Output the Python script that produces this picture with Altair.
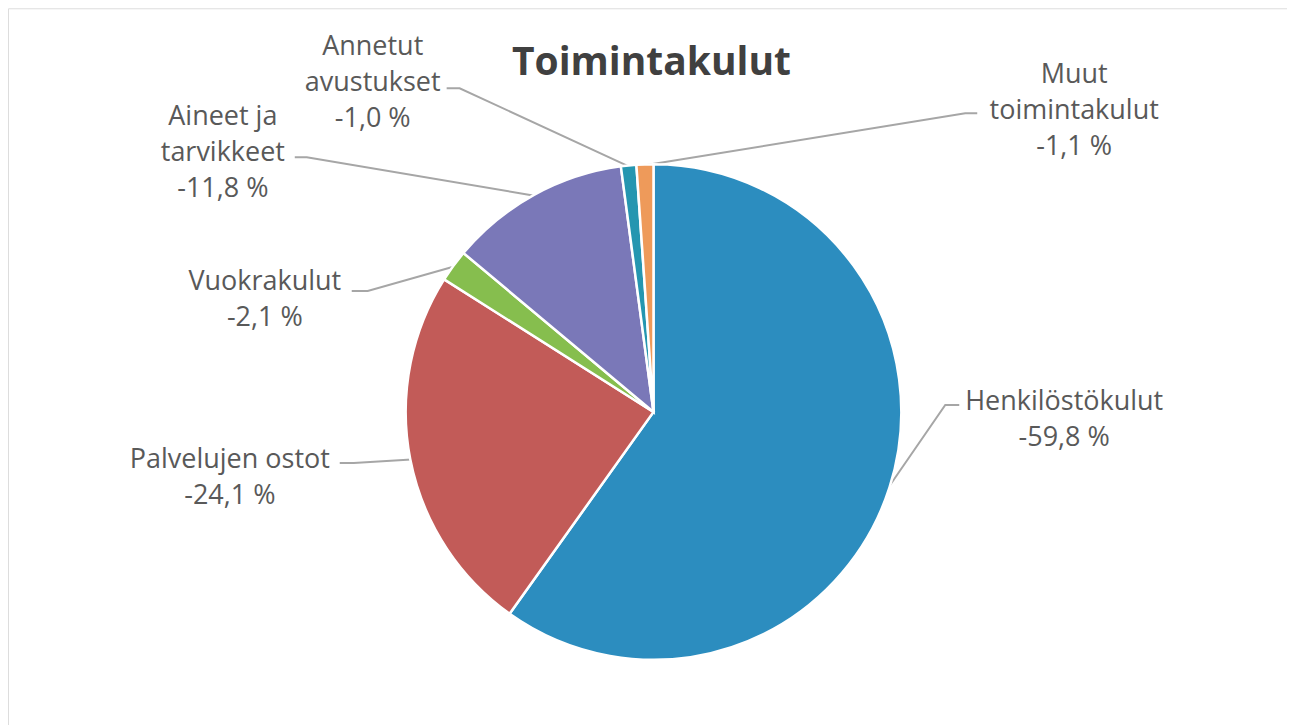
import math
import altair as alt
import pandas as pd

# ---- data ----
categories = ["Henkilöstökulut", "Palvelujen ostot", "Vuokrakulut",
              "Aineet ja tarvikkeet", "Annetut avustukset", "Muut toimintakulut"]
values = [-59.8, -24.1, -2.1, -11.8, -1.0, -1.1]
display_names = ["Henkilöstökulut", "Palvelujen ostot", "Vuokrakulut",
                 "Aineet ja\ntarvikkeet", "Annetut\navustukset", "Muut\ntoimintakulut"]
title_text = "Toimintakulut"

# ---- styles ----
colors = ["#2C8DBF", "#C25B58", "#86BE4E", "#7A78B8", "#2596B0", "#EE9A5A"]

# ---- layout (page pixel coordinates; y = first text line) ----
CX, CY, R = 654, 412, 248
label_x = [1065, 230, 265, 223, 373, 1075]
label_y = [402, 460, 282, 117, 47, 75]
lead_x = [960, 340, 352, 295, 447, 978]
lead_elbow = [946, 354, 368, 307, 460, 966]
lead_y = [405, 463, 291, 157, 88, 113]


def fmt(v):
    return f"{v:.1f}".replace(".", ",") + " %"


pie_df = pd.DataFrame({
    "cat": categories,
    "value": values,
    "idx": list(range(len(categories))),
})
pie_df["absval"] = pie_df["value"].abs()

label_df = pd.DataFrame({
    "cat": categories,
    "txt": [d + "\n" + fmt(v) for d, v in zip(display_names, values)],
    "x": label_x,
    "y": label_y,
})

# leader lines: label end -> elbow -> slice mid-angle on the pie edge
total = sum(abs(v) for v in values)
rows = []
cum = 0.0
for i, (c, v) in enumerate(zip(categories, values)):
    a = 2 * math.pi * (cum + abs(v) / 2) / total
    cum += abs(v)
    ex = CX + (R - 1) * math.sin(a)
    ey = CY - (R - 1) * math.cos(a)
    rows.append({"cat": c, "seq": 0, "x": lead_x[i], "y": lead_y[i]})
    rows.append({"cat": c, "seq": 1, "x": lead_elbow[i], "y": lead_y[i]})
    rows.append({"cat": c, "seq": 2, "x": ex, "y": ey})
lead_df = pd.DataFrame(rows)

title_df = pd.DataFrame({"t": [title_text], "x": [652], "y": [63]})

xs = alt.Scale(domain=[8, 1288], nice=False, zero=False)
ys = alt.Scale(domain=[728, 8], nice=False, zero=False)

pie = alt.Chart(pie_df).mark_arc(radius=R, stroke="white", strokeWidth=2.5).encode(
    theta=alt.Theta("absval:Q", stack=True),
    color=alt.Color("cat:N", scale=alt.Scale(domain=categories, range=colors), legend=None),
    order=alt.Order("idx:Q"),
    x=alt.value(CX - 8),
    y=alt.value(CY - 8),
)

leaders = alt.Chart(lead_df).mark_line(color="#A6A6A6", strokeWidth=2).encode(
    x=alt.X("x:Q", scale=xs, axis=None),
    y=alt.Y("y:Q", scale=ys, axis=None),
    detail="cat:N",
    order="seq:Q",
)

labels = alt.Chart(label_df).mark_text(
    font="Open Sans", fontSize=27, lineBreak="\n", lineHeight=36,
    color="#595959", align="center", baseline="middle",
).encode(
    x=alt.X("x:Q", scale=xs, axis=None),
    y=alt.Y("y:Q", scale=ys, axis=None),
    text="txt:N",
)

title = alt.Chart(title_df).mark_text(
    font="Open Sans", fontSize=39, fontWeight="bold", color="#404040",
    align="center", baseline="middle",
).encode(
    x=alt.X("x:Q", scale=xs, axis=None),
    y=alt.Y("y:Q", scale=ys, axis=None),
    text="t:N",
)

chart = alt.layer(leaders, pie, labels, title).properties(
    width=1280, height=720,
    autosize=alt.AutoSizeParams(type="none"),
    padding=0,
).configure_view(stroke="#D4D4D4", strokeWidth=2).configure(background="white")

chart.save("out.html", embed_options={"renderer": "svg", "actions": False})
